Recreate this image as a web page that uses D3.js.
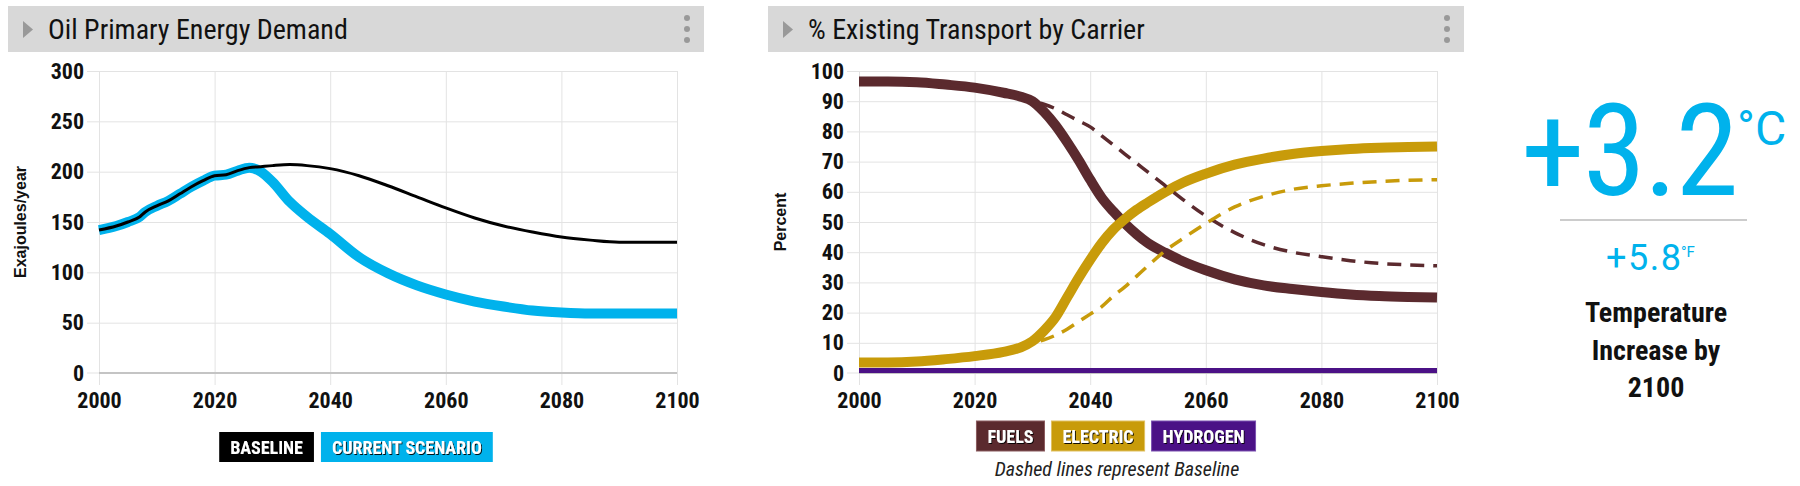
<!DOCTYPE html>
<html>
<head>
<meta charset="utf-8">
<script src="https://cdn.jsdelivr.net/npm/d3@7"></script>
<style>
  body { margin: 0; background: #fff; }
  svg { display: block; }
  .cond { font-family: "Roboto Condensed", "Liberation Sans Narrow", "DejaVu Sans Condensed", sans-serif; }
  .tick text { font-family: "Roboto Condensed", "Liberation Sans Narrow", "DejaVu Sans Condensed", sans-serif; font-weight: bold; font-size: 22px; fill: #111; }
  .ytitle { font-family: "Liberation Sans", Arial, Helvetica, sans-serif; font-weight: bold; font-size: 16px; fill: #111; }
  .grid line { stroke: #e3e3e3; stroke-width: 1; }
  .grid path { display: none; }
</style>
</head>
<body>
<svg id="chart" width="1800" height="486"></svg>
<script>
// ---- data ----
const years = [2000, 2003, 2005, 2007, 2008, 2010, 2012, 2014, 2016, 2018, 2020, 2022, 2024, 2026, 2028,
  2030, 2033, 2036, 2040, 2045, 2050, 2055, 2060, 2065, 2070, 2075, 2080, 2085, 2090, 2095, 2100];
const oilBaseline = [142, 146, 150, 155, 160, 166, 171, 178, 185, 191, 196, 197, 201, 204, 205,
  206, 207, 206, 203, 196, 186, 175, 164, 154, 146, 140, 135, 132, 130, 130, 130];
const oilCurrent = [142, 146, 150, 155, 160, 166, 171, 178, 185, 191, 196, 197, 201, 204, 200,
  190, 170, 155, 138, 115, 99, 87, 78, 71, 66, 62, 60, 59, 59, 59, 59];

const tYears = [2000, 2005, 2010, 2015, 2020, 2025, 2028, 2030, 2032, 2034, 2036, 2038, 2040, 2042, 2044,
  2046, 2048, 2050, 2053, 2056, 2060, 2065, 2070, 2075, 2080, 2085, 2090, 2095, 2100];
const fuelsCurrent = [96.5, 96.5, 96.3, 95.5, 94.5, 92.8, 91.5, 90, 86.5, 82, 76.5, 70.5, 64, 58, 53.5,
  49.5, 46, 43, 39.8, 37, 34, 31, 29, 27.8, 26.8, 26, 25.5, 25.2, 25];
const fuelsBaseline = [96.5, 96.5, 96.3, 95.5, 94.5, 92.8, 91.5, 90, 89, 87.5, 85.5, 83.5, 81.5, 78.5, 75.5,
  72.5, 69.5, 66.5, 62, 57.5, 52, 46.5, 42.5, 40, 38.5, 37.2, 36.3, 35.8, 35.5];
const electricCurrent = [3.5, 3.5, 3.8, 4.6, 5.6, 7, 8.5, 10.5, 14, 18.5, 25, 31.5, 37.5, 43, 47.5,
  51, 54, 56.5, 60, 63, 66, 69, 71, 72.5, 73.5, 74.2, 74.6, 74.8, 75];
const electricBaseline = [3.5, 3.5, 3.8, 4.6, 5.6, 7, 8.5, 10, 11, 12.5, 14.5, 17, 19.5, 22, 25.5,
  28.5, 32, 35.5, 40.5, 44.5, 49.5, 55, 58.5, 60.8, 62, 62.8, 63.4, 63.8, 64];
const hydrogenCurrent = tYears.map(() => 0.8);

const xTicks = [2000, 2020, 2040, 2060, 2080, 2100];
const oilTicks = [0, 50, 100, 150, 200, 250, 300];
const pctTicks = [0, 10, 20, 30, 40, 50, 60, 70, 80, 90, 100];

const blue = "#00b2ec";
const fuelsColor = "#5b2a2e";
const electricColor = "#c89b0a";
const hydrogenColor = "#4b1186";

const svg = d3.select("#chart");
svg.append("rect").attr("width", 1800).attr("height", 486).attr("fill", "#fff");

// text shadow for legend labels
const defs = svg.append("defs");
defs.append("filter").attr("id", "shadow")
  .append("feDropShadow").attr("dx", 1).attr("dy", 1).attr("stdDeviation", 0.6)
  .attr("flood-color", "#000").attr("flood-opacity", 0.9);

const plotW = 578, plotH = 302, plotTop = 71;

// header bar with arrow, title and the three dots
function header(g, title) {
  g.append("rect").attr("x", 8).attr("y", 6).attr("width", 696).attr("height", 46).attr("fill", "#d8d8d8");
  g.append("path").attr("d", "M23,21 L33,29.5 L23,38 Z").attr("fill", "#999");
  g.append("text").attr("class", "cond").attr("x", 48).attr("y", 39)
    .attr("font-size", 28).attr("fill", "#111").text(title);
  [18, 29, 40].forEach(cy => g.append("circle").attr("cx", 687).attr("cy", cy).attr("r", 3).attr("fill", "#999"));
}

// plot area: grid, axes, y title; returns scales and plot group
function plot(g, left, yMax, yTicks, yTitle) {
  const x = d3.scaleLinear().domain([2000, 2100]).range([0, plotW]);
  const y = d3.scaleLinear().domain([0, yMax]).range([plotH, 0]);
  const p = g.append("g").attr("transform", `translate(${left},${plotTop})`);

  // vertical grid + x ticks below axis
  p.append("g").attr("class", "grid").attr("transform", `translate(0,${plotH})`)
    .call(d3.axisBottom(x).tickValues(xTicks).tickSize(-plotH).tickFormat(""));
  p.append("g").attr("class", "grid").attr("transform", `translate(0,${plotH})`)
    .call(d3.axisBottom(x).tickValues(xTicks).tickSize(12).tickFormat(""));
  // horizontal grid
  p.append("g").attr("class", "grid").attr("transform", `translate(${plotW},0)`)
    .call(d3.axisLeft(y).tickValues(yTicks.filter(v => v > 0)).tickSize(plotW + 12).tickFormat(""));

  // zero line
  p.append("line").attr("x1", 0).attr("x2", plotW).attr("y1", plotH).attr("y2", plotH)
    .attr("stroke", "#c4c4c4").attr("stroke-width", 2);
  p.append("line").attr("x1", -12).attr("x2", 0).attr("y1", plotH).attr("y2", plotH)
    .attr("stroke", "#e3e3e3");

  const xa = p.append("g").attr("transform", `translate(0,${plotH})`)
    .call(d3.axisBottom(x).tickValues(xTicks).tickFormat(d3.format("d")).tickSize(12).tickPadding(7));
  xa.select(".domain").remove();
  xa.selectAll("line").remove();

  const ya = p.append("g").call(d3.axisLeft(y).tickValues(yTicks).tickSize(0).tickPadding(15));
  ya.select(".domain").remove();

  g.append("text").attr("class", "ytitle")
    .attr("transform", `translate(${left - 73},${plotTop + plotH / 2}) rotate(-90)`)
    .attr("text-anchor", "middle").text(yTitle);

  return { x, y, p };
}

function legend(g, cx, top, items) {
  const lg = g.append("g");
  const boxes = items.map(it => {
    const t = lg.append("text").attr("class", "cond").attr("font-size", 18).attr("font-weight", "bold")
      .attr("fill", "#fff").attr("filter", "url(#shadow)").text(it.label);
    return { it, t, w: t.node().getComputedTextLength() + 22 };
  });
  const gap = 7;
  const total = d3.sum(boxes, b => b.w) + gap * (boxes.length - 1);
  let xPos = cx - total / 2;
  boxes.forEach(b => {
    lg.insert("rect", "text").attr("x", xPos).attr("y", top).attr("width", b.w).attr("height", 30)
      .attr("fill", b.it.color).attr("stroke", b.it.border || "none");
    b.t.attr("x", xPos + b.w / 2).attr("y", top + 22).attr("text-anchor", "middle");
    xPos += b.w + gap;
  });
}

// ---------- left panel: Oil Primary Energy Demand ----------
const left = svg.append("g");
header(left, "Oil Primary Energy Demand");
const L = plot(left, 99, 300, oilTicks, "Exajoules/year");
const lineL = d3.line().x((d, i) => L.x(years[i])).y(d => L.y(d)).curve(d3.curveMonotoneX);
L.p.append("path").datum(oilCurrent).attr("d", lineL).attr("fill", "none")
  .attr("stroke", blue).attr("stroke-width", 10);
L.p.append("path").datum(oilBaseline).attr("d", lineL).attr("fill", "none")
  .attr("stroke", "#000").attr("stroke-width", 3);
legend(left, 356, 432, [
  { label: "BASELINE", color: "#000" },
  { label: "CURRENT SCENARIO", color: blue }
]);

// ---------- right panel: % Existing Transport by Carrier ----------
const right = svg.append("g").attr("transform", "translate(760,0)");
header(right, "% Existing Transport by Carrier");
const R = plot(right, 99, 100, pctTicks, "Percent");
const lineR = d3.line().x((d, i) => R.x(tYears[i])).y(d => R.y(d)).curve(d3.curveMonotoneX);
[[hydrogenCurrent, hydrogenColor, 5], [fuelsCurrent, fuelsColor, 10], [electricCurrent, electricColor, 10]]
  .forEach(([data, c, w]) => R.p.append("path").datum(data).attr("d", lineR).attr("fill", "none")
    .attr("stroke", c).attr("stroke-width", w));
[[fuelsBaseline, fuelsColor], [electricBaseline, electricColor]]
  .forEach(([data, c]) => R.p.append("path").datum(data).attr("d", lineR).attr("fill", "none")
    .attr("stroke", c).attr("stroke-width", 3.5).attr("stroke-dasharray", "14,9"));
legend(right, 356, 421, [
  { label: "FUELS", color: fuelsColor, border: "#8a5a5e" },
  { label: "ELECTRIC", color: electricColor, border: "#e0c060" },
  { label: "HYDROGEN", color: hydrogenColor, border: "#7a50b0" }
]);
right.append("text").attr("class", "cond").attr("x", 357).attr("y", 476).attr("text-anchor", "middle")
  .attr("font-size", 20).attr("font-style", "italic").attr("fill", "#222").text("Dashed lines represent Baseline");

// ---------- temperature readout ----------
const temp = svg.append("g").attr("font-family", "Roboto, sans-serif").attr("fill", blue);
temp.append("text").attr("class", "cond").attr("x", 1521).attr("y", 195).attr("font-size", 128)
  .attr("letter-spacing", -2).text("+3.2");
temp.append("text").attr("x", 1737).attr("y", 145).attr("font-size", 48).text("°C");
temp.append("line").attr("x1", 1560).attr("x2", 1747).attr("y1", 220).attr("y2", 220)
  .attr("stroke", "#999").attr("stroke-width", 1.2);
temp.append("text").attr("x", 1606).attr("y", 270).attr("font-size", 36).attr("letter-spacing", 1.5).text("+5.8");
temp.append("text").attr("x", 1681).attr("y", 257).attr("font-size", 15).text("°F");
const cap = svg.append("text").attr("class", "cond").attr("text-anchor", "middle").attr("font-size", 28)
  .attr("font-weight", "bold").attr("fill", "#111");
["Temperature", "Increase by", "2100"].forEach((s, i) =>
  cap.append("tspan").attr("x", 1656).attr("y", 322 + i * 37.5).text(s));
</script>
</body>
</html>
